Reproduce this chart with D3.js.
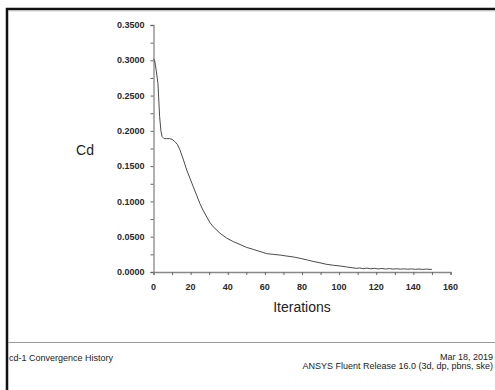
<!DOCTYPE html>
<html>
<head>
<meta charset="utf-8">
<script src="https://cdn.jsdelivr.net/npm/d3@7"></script>
<style>
  body { margin: 0; background: #fff; }
  svg { display: block; font-family: "Liberation Sans", Arial, sans-serif; }
</style>
</head>
<body>
<svg id="chart" width="495" height="390"></svg>
<script>
// values
var iterations = [0, 0.6, 1.5, 2.4, 3.3, 4.0, 4.6, 5.7, 7, 8.7, 10, 11.4, 12.8, 14.1, 16, 17.9, 19.6, 21.4, 23.2, 25, 26.8, 28.7, 30.4, 32.2, 35.8, 39.4, 43, 46.6, 50, 53.8, 57.4, 61, 64.5, 68.2, 72, 76, 79, 83, 86, 89.7, 93, 97, 100.5, 104, 107, 109.5, 111, 113, 115, 117, 119, 121, 123, 125, 127, 129, 131, 133, 135, 137, 139, 141, 143, 145, 147, 149, 150];
var cd = [0.302, 0.300, 0.285, 0.267, 0.220, 0.200, 0.192, 0.189, 0.189, 0.189, 0.188, 0.185, 0.181, 0.174, 0.160, 0.1445, 0.133, 0.121, 0.109, 0.097, 0.087, 0.078, 0.070, 0.064, 0.055, 0.048, 0.043, 0.039, 0.035, 0.032, 0.029, 0.026, 0.025, 0.024, 0.0225, 0.021, 0.0194, 0.017, 0.015, 0.013, 0.011, 0.0095, 0.0085, 0.0072, 0.0060, 0.0052, 0.0058, 0.0047, 0.0055, 0.0045, 0.0052, 0.0043, 0.0050, 0.0042, 0.0048, 0.0041, 0.0046, 0.0040, 0.0045, 0.0039, 0.0044, 0.0038, 0.0042, 0.0037, 0.0041, 0.0037, 0.0038];
var xTicks = [0, 20, 40, 60, 80, 100, 120, 140, 160];
var yTicks = [0, 0.05, 0.10, 0.15, 0.20, 0.25, 0.30, 0.35];

var points = iterations.map(function(d, i) { return [d, cd[i]]; });

var svg = d3.select("#chart");

// outer frame (only top and left visible in the capture)
svg.append("path")
  .attr("d", "M7,392 L7,9 L497,9")
  .attr("fill", "none")
  .attr("stroke", "#111")
  .attr("stroke-width", 2.5);
svg.append("line")
  .attr("x1", 8.5).attr("x2", 495)
  .attr("y1", 10.8).attr("y2", 10.8)
  .attr("stroke", "#bbb")
  .attr("stroke-width", 1);

var x = d3.scaleLinear().domain([0, 160]).range([153.5, 450.5]);
var y = d3.scaleLinear().domain([0, 0.35]).range([272, 25]);

var g = svg.append("g");

// x axis
var xAxis = g.append("g").attr("transform", "translate(0,272)");
xAxis.call(d3.axisBottom(x).tickValues(d3.range(0, 161, 10)).tickSize(3).tickFormat(""));
xAxis.selectAll("line").attr("stroke", "#666");
xAxis.select(".domain").attr("stroke", "#888").attr("stroke-width", 1.3);
g.append("g").selectAll("text")
  .data(xTicks)
  .enter().append("text")
    .attr("x", function(d) { return x(d); })
    .attr("y", 290)
    .attr("text-anchor", "middle")
    .attr("font-size", 9)
    .attr("font-weight", "bold")
    .attr("fill", "#2a2a2a")
    .text(function(d) { return d; });

// y axis
var yAxis = g.append("g").attr("transform", "translate(153.5,0)");
yAxis.call(d3.axisLeft(y).tickValues(d3.range(0, 0.3501, 0.025)).tickSize(3).tickFormat(""));
yAxis.selectAll("line").attr("stroke", "#666");
yAxis.select(".domain").attr("stroke", "#888").attr("stroke-width", 1.3);
g.append("g").selectAll("text")
  .data(yTicks)
  .enter().append("text")
    .attr("x", 144.5)
    .attr("y", function(d) { return y(d) + 3.2; })
    .attr("text-anchor", "end")
    .attr("font-size", 9)
    .attr("font-weight", "bold")
    .attr("fill", "#2a2a2a")
    .text(function(d) { return d3.format(".4f")(d); });

// axis titles
svg.append("text")
  .attr("x", 85).attr("y", 155)
  .attr("text-anchor", "middle")
  .attr("font-size", 14)
  .attr("fill", "#222")
  .text("Cd");
svg.append("text")
  .attr("x", 302).attr("y", 312)
  .attr("text-anchor", "middle")
  .attr("font-size", 14)
  .attr("fill", "#222")
  .text("Iterations");

// curve
var line = d3.line()
  .x(function(d) { return x(d[0]); })
  .y(function(d) { return y(d[1]); });
svg.append("path")
  .datum(points)
  .attr("d", line)
  .attr("fill", "none")
  .attr("stroke", "#4a4a4a")
  .attr("stroke-width", 1);

// footer
svg.append("line")
  .attr("x1", 8).attr("x2", 495)
  .attr("y1", 342.5).attr("y2", 342.5)
  .attr("stroke", "#999")
  .attr("stroke-width", 1);
svg.append("text")
  .attr("x", 9).attr("y", 361)
  .attr("font-size", 9)
  .attr("fill", "#222")
  .text("cd-1 Convergence History");
svg.append("text")
  .attr("x", 493).attr("y", 359.5)
  .attr("text-anchor", "end")
  .attr("font-size", 9)
  .attr("fill", "#222")
  .text("Mar 18, 2019");
svg.append("text")
  .attr("x", 493).attr("y", 368.5)
  .attr("text-anchor", "end")
  .attr("font-size", 9)
  .attr("fill", "#222")
  .text("ANSYS Fluent Release 16.0 (3d, dp, pbns, ske)");
</script>
</body>
</html>
